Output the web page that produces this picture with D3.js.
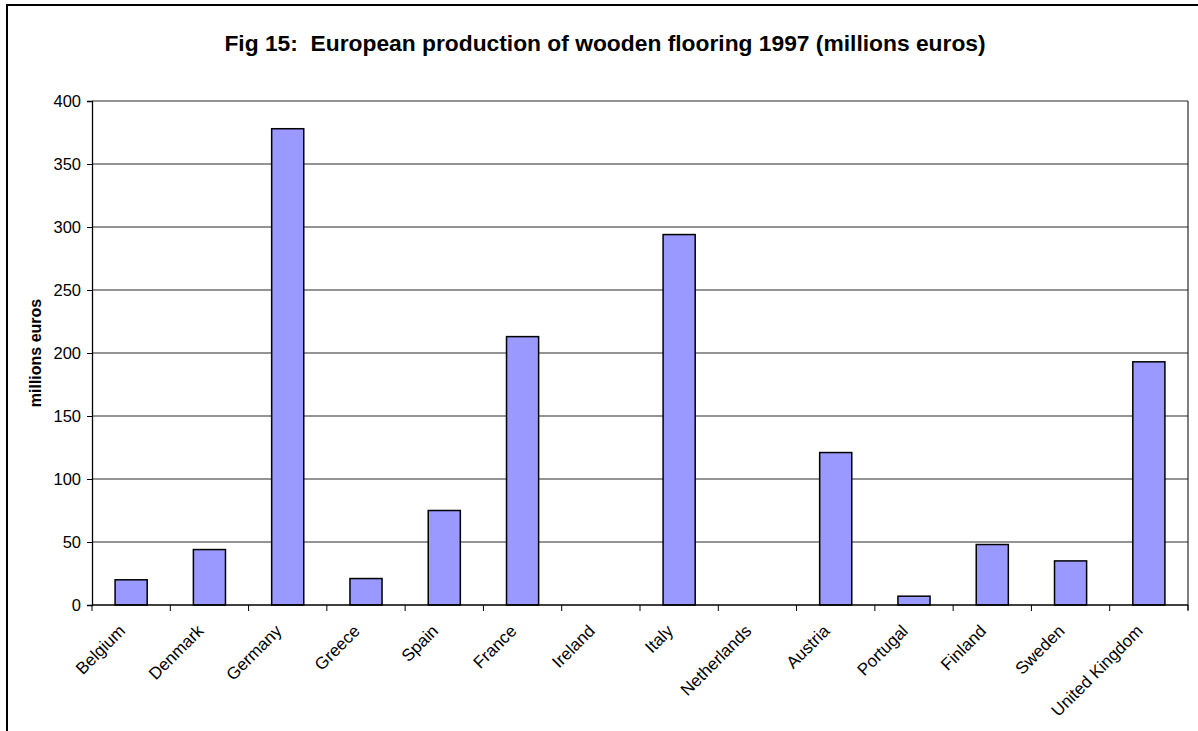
<!DOCTYPE html>
<html>
<head>
<meta charset="utf-8">
<script src="https://cdn.jsdelivr.net/npm/d3@7"></script>
<style>
  body { margin: 0; background: #fff; }
  text { font-family: "Liberation Sans", Arial, sans-serif; }
</style>
</head>
<body>
<script>
// data
const countries = ["Belgium", "Denmark", "Germany", "Greece", "Spain", "France", "Ireland",
                   "Italy", "Netherlands", "Austria", "Portugal", "Finland", "Sweden", "United Kingdom"];
const production = [20, 44, 378, 21, 75, 213, 0, 294, 0, 121, 7, 48, 35, 193];
const yTicks = [0, 50, 100, 150, 200, 250, 300, 350, 400];

const W = 1198, H = 731;
const margin = {top: 101, right: 10, bottom: 126, left: 92};
const width = W - margin.left - margin.right,
      height = H - margin.top - margin.bottom;

const svg = d3.select("body").append("svg")
    .attr("width", W)
    .attr("height", H);

// outer chart frame (runs off the right/bottom of the picture)
svg.append("rect")
    .attr("x", 7).attr("y", 5)
    .attr("width", W + 20).attr("height", H + 20)
    .attr("fill", "none")
    .attr("stroke", "#000")
    .attr("stroke-width", 2);

svg.append("text")
    .attr("x", 605).attr("y", 51)
    .attr("text-anchor", "middle")
    .attr("font-size", 22.8)
    .attr("font-weight", "bold")
    .style("white-space", "pre")
    .text("Fig 15:  European production of wooden flooring 1997 (millions euros)");

svg.append("text")
    .attr("transform", "translate(41," + (margin.top + height / 2) + ") rotate(-90)")
    .attr("text-anchor", "middle")
    .attr("font-size", 16)
    .attr("font-weight", "bold")
    .text("millions euros");

const g = svg.append("g")
    .attr("transform", "translate(" + margin.left + "," + margin.top + ")");

const x = d3.scaleBand().domain(countries).range([0, width]).paddingInner(0.59).paddingOuter(0.295);
const y = d3.scaleLinear().domain([0, 400]).range([height, 0]);

// gridlines
g.selectAll("line.grid").data(yTicks.slice(1))
    .enter().append("line")
    .attr("class", "grid")
    .attr("x1", 0).attr("x2", width)
    .attr("y1", d => y(d)).attr("y2", d => y(d))
    .attr("stroke", "#707070")
    .attr("stroke-width", 1.3);

// right edge of plot area
g.append("line")
    .attr("x1", width).attr("x2", width)
    .attr("y1", 0).attr("y2", height + 5)
    .attr("stroke", "#000");

// bars
g.selectAll("rect.bar").data(countries)
    .enter().append("rect")
    .attr("class", "bar")
    .attr("x", d => x(d))
    .attr("width", x.bandwidth())
    .attr("y", (d, i) => y(production[i]))
    .attr("height", (d, i) => height - y(production[i]))
    .attr("fill", "#9999ff")
    .attr("stroke", "#000")
    .attr("stroke-width", 1.5);

// y axis
const yAxis = d3.axisLeft(y).tickValues(yTicks).tickSize(5).tickPadding(6);
g.append("g").call(yAxis)
    .call(a => a.select(".domain").attr("stroke-width", 1.3))
    .call(a => a.selectAll("text").attr("font-size", 16.5).attr("fill", "#000")
        .attr("font-family", "Liberation Sans, Arial, sans-serif"));

// x axis baseline and ticks at category boundaries
g.append("line")
    .attr("x1", 0).attr("x2", width)
    .attr("y1", height).attr("y2", height)
    .attr("stroke", "#000").attr("stroke-width", 1.5);

const step = x.step();
g.selectAll("line.xtick").data(d3.range(countries.length + 1))
    .enter().append("line")
    .attr("class", "xtick")
    .attr("x1", i => i * step).attr("x2", i => i * step)
    .attr("y1", height).attr("y2", height + 6)
    .attr("stroke", "#000");

g.selectAll("text.xlabel").data(countries)
    .enter().append("text")
    .attr("class", "xlabel")
    .attr("text-anchor", "end")
    .attr("font-size", 17)
    .attr("transform", d => "translate(" + (x(d) + x.bandwidth() / 2 - 5) + "," + (height + 27) + ") rotate(-45)")
    .text(d => d);
</script>
</body>
</html>
